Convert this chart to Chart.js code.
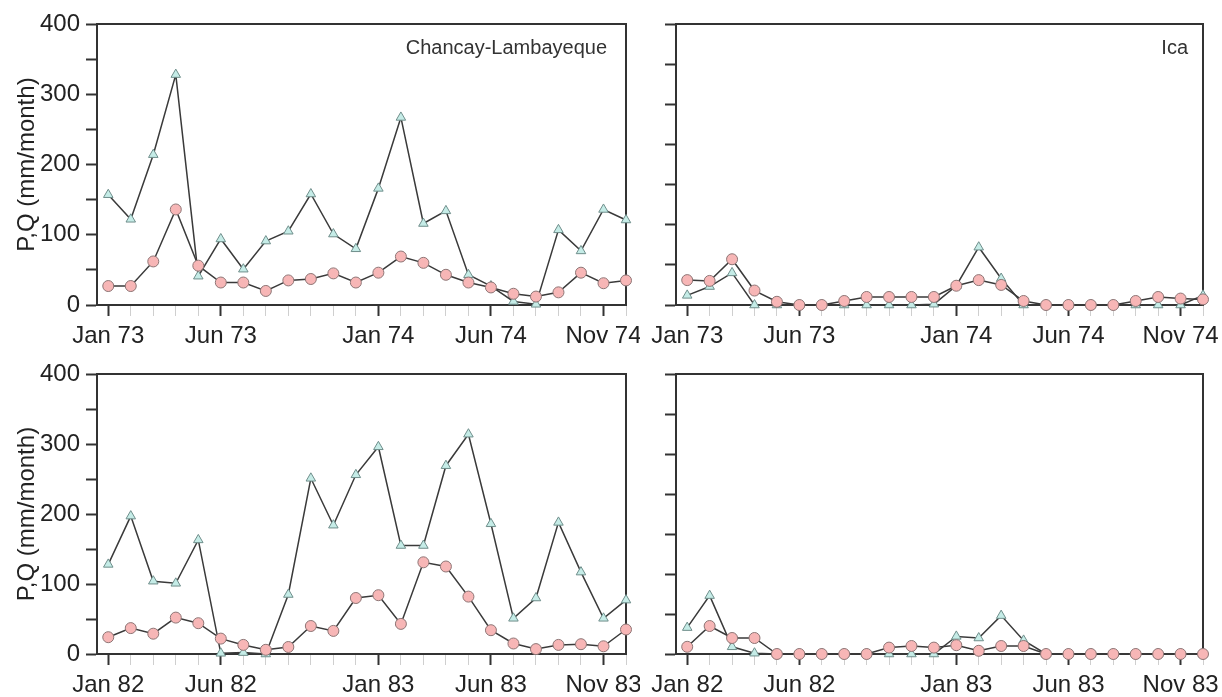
<!DOCTYPE html>
<html>
<head>
<meta charset="utf-8">
<title>P, Q mensual - Chancay-Lambayeque / Ica</title>
<script src="https://cdn.jsdelivr.net/npm/chart.js@4.4.1/dist/chart.umd.min.js"></script>
<style>
  html, body { margin: 0; padding: 0; background: #fff; }
  body { position: relative; width: 1222px; height: 697px; overflow: hidden; }
  canvas { position: absolute; }
</style>
</head>
<body>
<canvas id="cl-73" width="640" height="360" style="left:0;top:0"></canvas>
<canvas id="ica-73" width="582" height="360" style="left:640px;top:0"></canvas>
<canvas id="cl-82" width="640" height="347" style="left:0;top:350px"></canvas>
<canvas id="ica-82" width="582" height="347" style="left:640px;top:350px"></canvas>

<script>
/* ============================================================
   P (triangulos) y Q (circulos) mensuales, mm/mes
   Fila superior: 1973-74, fila inferior: 1982-83
   ============================================================ */

var Y_TITULO = 'P,Q (mm/month)';

// meses 0..23 del periodo de dos años
var meses = [0, 1, 2, 3, 4, 5, 6, 7, 8, 9, 10, 11, 12, 13, 14, 15, 16, 17, 18, 19, 20, 21, 22, 23];
var mesesEtiqueta = [0, 5, 12, 17, 22];
var etiquetas7374 = ['Jan 73', 'Jun 73', 'Jan 74', 'Jun 74', 'Nov 74'];
var etiquetas8283 = ['Jan 82', 'Jun 82', 'Jan 83', 'Jun 83', 'Nov 83'];

// Chancay-Lambayeque 1973-74
var clP7374 = [157, 122, 214, 328, 41, 94, 51, 91, 105, 158, 101, 80, 166, 267, 116, 134, 43, 27, 5, 1, 107, 77, 136, 121];
var clQ7374 = [27, 27, 62, 136, 56, 32, 32, 20, 35, 37, 45, 32, 46, 69, 60, 43, 32, 25, 16, 12, 18, 46, 31, 35];

// Ica 1973-74
var icaP7374 = [12, 23, 40, 0, 0, 0, 0, 0, 0, 0, 0, 1, 24, 72, 33, 0, 0, 0, 0, 0, 0, 0, 0, 12];
var icaQ7374 = [31, 30, 57, 18, 4, 0, 0, 5, 10, 10, 10, 10, 24, 31, 25, 5, 0, 0, 0, 0, 5, 10, 8, 7];

// Chancay-Lambayeque 1982-83
var clP8283 = [128, 197, 104, 101, 163, 1, 2, 0, 85, 251, 184, 256, 296, 155, 155, 269, 314, 186, 51, 80, 188, 117, 51, 77];
var clQ8283 = [24, 37, 29, 52, 44, 22, 13, 6, 10, 40, 33, 80, 84, 43, 131, 125, 82, 34, 15, 7, 13, 14, 11, 35];

// Ica 1982-83
var icaP8283 = [33, 73, 9, 1, 0, 0, 0, 0, 0, 0, 0, 0, 22, 20, 48, 17, 0, 0, 0, 0, 0, 0, 0, 0];
var icaQ8283 = [9, 35, 20, 20, 0, 0, 0, 0, 0, 8, 10, 8, 11, 4, 10, 10, 0, 0, 0, 0, 0, 0, 0, 0];

var FUENTE = '"Liberation Sans", Arial, Helvetica, sans-serif';
var EJE = '#333333';
var LINEA = '#3a3a3a';

Chart.defaults.font.family = FUENTE;
Chart.defaults.color = '#222';

function serie(vals) {
  return vals.map(function(v, i) { return { x: meses[i], y: v }; });
}

// marco completo del area de datos + nombre de la cuenca
var marcoPlugin = {
  id: 'marco',
  beforeDatasetsDraw: function(chart) {
    var a = chart.chartArea;
    var ctx = chart.ctx;
    ctx.save();
    ctx.strokeStyle = EJE;
    ctx.lineWidth = 2;
    ctx.strokeRect(a.left, a.top, a.right - a.left, a.bottom - a.top);
    ctx.restore();
  },
  afterDraw: function(chart, args, opts) {
    if (!opts.texto) return;
    var a = chart.chartArea;
    var ctx = chart.ctx;
    ctx.save();
    ctx.font = '20px ' + FUENTE;
    ctx.fillStyle = '#333';
    ctx.textAlign = 'right';
    ctx.textBaseline = 'alphabetic';
    ctx.fillText(opts.texto, a.right - opts.margen, a.top + 30);
    ctx.restore();
  }
};

function crearPanel(id, cfg) {
  var ctx = document.getElementById(id).getContext('2d');
  var etiquetas = {};
  for (var i = 0; i < mesesEtiqueta.length; i++) etiquetas[mesesEtiqueta[i]] = cfg.etiquetas[i];

  return new Chart(ctx, {
    type: 'line',
    data: {
      datasets: [
        {
          label: 'Q',
          data: serie(cfg.q),
          order: 1,
          borderColor: LINEA,
          borderWidth: 1.5,
          pointStyle: 'circle',
          pointRadius: 5.5,
          pointBackgroundColor: '#f7b6b6',
          pointBorderColor: '#8d7575',
          pointBorderWidth: 1,
          tension: 0,
          clip: false
        },
        {
          label: 'P',
          data: serie(cfg.p),
          order: 2,
          borderColor: LINEA,
          borderWidth: 1.5,
          pointStyle: 'triangle',
          pointRadius: 5.5,
          pointBackgroundColor: '#c5ece7',
          pointBorderColor: '#6f8e8b',
          pointBorderWidth: 1,
          tension: 0,
          clip: false
        }
      ]
    },
    options: {
      responsive: false,
      animation: false,
      events: [],
      layout: { padding: { top: 24, right: cfg.padDer, bottom: 0, left: 0 } },
      plugins: {
        legend: { display: false },
        tooltip: { enabled: false },
        marco: { texto: cfg.texto, margen: cfg.margen }
      },
      scales: {
        x: {
          type: 'linear',
          min: -0.5,
          max: 23,
          afterBuildTicks: function(scale) {
            scale.ticks = meses.map(function(m) { return { value: m }; });
          },
          afterFit: function(scale) { scale.height = cfg.altoX; },
          border: { color: EJE, width: 2 },
          grid: {
            drawOnChartArea: false,
            drawTicks: true,
            tickLength: 11,
            tickColor: function(c) {
              return etiquetas[c.tick && c.tick.value] ? EJE : '#cfcfcf';
            },
            tickWidth: function(c) {
              return etiquetas[c.tick && c.tick.value] ? 2 : 1;
            }
          },
          ticks: {
            autoSkip: false,
            maxRotation: 0,
            minRotation: 0,
            padding: 6,
            font: { size: 24 },
            color: '#222',
            callback: function(v) { return etiquetas[v] || ''; }
          }
        },
        y: {
          min: 0,
          max: cfg.maxY,
          afterFit: function(scale) { scale.width = cfg.anchoY; },
          border: { color: EJE, width: 2 },
          grid: {
            drawOnChartArea: false,
            drawTicks: true,
            tickLength: 11,
            tickColor: EJE,
            tickWidth: 2
          },
          ticks: {
            stepSize: 50,
            autoSkip: false,
            padding: 6,
            font: { size: 24 },
            color: '#222',
            callback: function(v) {
              if (!cfg.conEtiquetasY) return '';
              return v % 100 === 0 ? v : '';
            }
          },
          title: {
            display: cfg.conEtiquetasY,
            text: Y_TITULO,
            font: { size: 24 },
            color: '#222',
            padding: { top: 13, bottom: 0 }
          }
        }
      }
    },
    plugins: [marcoPlugin]
  });
}

// columna izquierda: Chancay-Lambayeque, escala 0-400
crearPanel('cl-73', {
  p: clP7374, q: clQ7374, etiquetas: etiquetas7374,
  maxY: 400, conEtiquetasY: true, anchoY: 97, padDer: 14, altoX: 55,
  texto: 'Chancay-Lambayeque', margen: 19
});
crearPanel('cl-82', {
  p: clP8283, q: clQ8283, etiquetas: etiquetas8283,
  maxY: 400, conEtiquetasY: true, anchoY: 97, padDer: 14, altoX: 43,
  texto: '', margen: 0
});

// columna derecha: Ica, sin etiquetas en Y
crearPanel('ica-73', {
  p: icaP7374, q: icaQ7374, etiquetas: etiquetas7374,
  maxY: 350, conEtiquetasY: false, anchoY: 36, padDer: 19, altoX: 55,
  texto: 'Ica', margen: 15
});
crearPanel('ica-82', {
  p: icaP8283, q: icaQ8283, etiquetas: etiquetas8283,
  maxY: 350, conEtiquetasY: false, anchoY: 36, padDer: 19, altoX: 43,
  texto: '', margen: 0
});
</script>
</body>
</html>
